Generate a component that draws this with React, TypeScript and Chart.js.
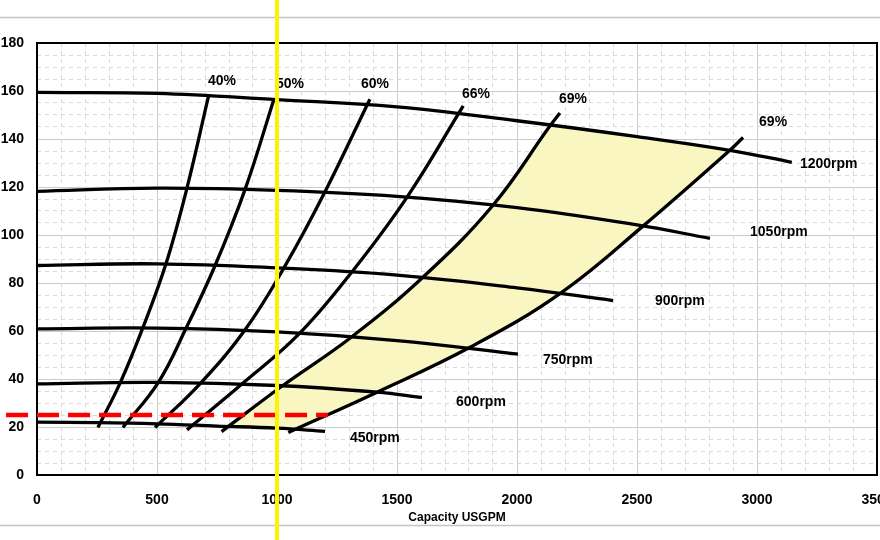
import { useEffect, useRef } from 'react';
import { Chart, registerables } from 'chart.js';

Chart.register(...registerables);

// Speed curves: head (ft) against capacity (USGPM)
const rpm1200X = [0, 500, 1000, 1500, 2000, 2500, 2887, 3145];
const rpm1200Y = [159.4, 159, 156.4, 153.4, 147.6, 141, 135.3, 130.3];
const rpm1050X = [0, 500, 1000, 1500, 2000, 2500, 2804];
const rpm1050Y = [118.2, 119.5, 118.6, 116.1, 111.4, 104.2, 98.6];
const rpm900X = [0, 500, 1000, 1500, 2000, 2400];
const rpm900Y = [87.3, 88, 86.3, 83.3, 78, 72.7];
const rpm750X = [0, 500, 1000, 1500, 2004];
const rpm750Y = [60.9, 61.2, 59.6, 56, 50.4];
const rpm600X = [0, 500, 1000, 1417, 1604];
const rpm600Y = [38, 38.6, 37.3, 34.5, 32.3];
const rpm450X = [0, 250, 500, 750, 1000, 1200];
const rpm450Y = [22, 21.8, 21.3, 20.4, 19.5, 18.2];

// Efficiency curves
const eff40X = [254, 347, 440, 537, 625, 716];
const eff40Y = [19.8, 38.5, 61.1, 87.9, 119.6, 158.5];
const eff50X = [358, 505, 620, 743, 867, 988];
const eff50Y = [19.8, 38.5, 60.9, 87.5, 119, 156.8];
const eff60X = [492, 679, 867, 1033, 1200, 1387];
const eff60Y = [19.8, 38, 60.5, 87, 118, 156.6];
const eff66X = [625, 855, 1093, 1312, 1542, 1776];
const eff66Y = [18.8, 38, 58.9, 84.6, 115.8, 153.8];
const eff69aX = [769, 1023, 1308, 1608, 1900, 2137, 2179];
const eff69aY = [18.1, 37.2, 57.3, 82.4, 112.4, 145.4, 150.8];
const eff69bX = [1047, 1417, 1804, 2179, 2525, 2887, 2942];
const eff69bY = [17.7, 34.5, 53.2, 75.6, 103.7, 135.3, 140.6];

// Best efficiency zone (between the two 69% curves)
const zoneX = [780, 1023, 1308, 1608, 1900, 2137, 2500, 2887, 2525, 2179, 1804, 1417, 1075, 1000, 780];
const zoneY = [20.1, 37.2, 57.3, 82.4, 112.4, 145.4, 141, 135.3, 103.7, 75.6, 53.2, 34.5, 19, 19.5, 20.1];

// Duty point markers
const markerFlow = 1000;
const dutyHeadX = [-129, 1212];
const dutyHeadY = [25, 25];

const effLabels = ['40%', '50%', '60%', '66%', '69%', '69%'];
const effLabelX = [771, 1054, 1408, 1829, 2233, 3067];
const effLabelY = [164.2, 162.9, 162.9, 158.7, 156.6, 147];
const rpmLabels = ['1200rpm', '1050rpm', '900rpm', '750rpm', '600rpm', '450rpm'];
const rpmLabelX = [3179, 2971, 2575, 2108, 1746, 1304];
const rpmLabelY = [129.5, 101.1, 72.3, 48, 30.5, 15.5];

const FONT = '"Liberation Sans", Arial, sans-serif';

const pts = (xs: number[], ys: number[]) => xs.map((x, i) => ({ x, y: ys[i] }));

const curve = (xs: number[], ys: number[]) => ({
  data: pts(xs, ys),
  borderColor: '#000',
  borderWidth: 3.3,
  pointRadius: 0,
  tension: 0.4,
  fill: false,
  order: 1,
});

const overlay = {
  id: 'overlay',
  beforeDraw(chart: any) {
    const { ctx, width } = chart;
    ctx.save();
    ctx.fillStyle = '#fff';
    ctx.fillRect(0, 0, width, chart.height);
    ctx.strokeStyle = '#c4c4c4';
    ctx.lineWidth = 1.5;
    ctx.beginPath();
    ctx.moveTo(0, 17.5);
    ctx.lineTo(width, 17.5);
    ctx.moveTo(0, 525.5);
    ctx.lineTo(width, 525.5);
    ctx.stroke();
    ctx.restore();
  },
  beforeDatasetsDraw(chart: any) {
    const { ctx, chartArea: a } = chart;
    ctx.save();
    ctx.strokeStyle = '#000';
    ctx.lineWidth = 2;
    ctx.strokeRect(a.left, a.top, a.right - a.left, a.bottom - a.top);
    ctx.restore();
  },
  afterDatasetsDraw(chart: any) {
    const { ctx } = chart;
    const xs = chart.scales.x;
    const ys = chart.scales.y;
    ctx.save();
    ctx.fillStyle = '#000';
    ctx.font = `bold 14px ${FONT}`;
    ctx.textBaseline = 'middle';
    ctx.textAlign = 'center';
    effLabels.forEach((t, i) => {
      ctx.fillText(t, xs.getPixelForValue(effLabelX[i]), ys.getPixelForValue(effLabelY[i]));
    });
    ctx.textAlign = 'left';
    rpmLabels.forEach((t, i) => {
      ctx.fillText(t, xs.getPixelForValue(rpmLabelX[i]), ys.getPixelForValue(rpmLabelY[i]));
    });
    ctx.restore();
  },
  afterDraw(chart: any) {
    const { ctx } = chart;
    const px = chart.scales.x.getPixelForValue(markerFlow);
    ctx.save();
    ctx.strokeStyle = '#fbf400';
    ctx.lineWidth = 4;
    ctx.beginPath();
    ctx.moveTo(px, 0);
    ctx.lineTo(px, chart.height);
    ctx.stroke();
    ctx.restore();
  },
};

export default function App() {
  const canvasRef = useRef<HTMLCanvasElement>(null);

  useEffect(() => {
    const canvas = canvasRef.current;
    if (!canvas) return;

    const chart = new Chart(canvas, {
      type: 'line',
      data: {
        datasets: [
          {
            data: pts(dutyHeadX, dutyHeadY),
            borderColor: '#ff0000',
            borderWidth: 4.5,
            borderDash: [22, 9],
            pointRadius: 0,
            tension: 0,
            fill: false,
            clip: false,
            order: 0,
          },
          curve(rpm1200X, rpm1200Y),
          curve(rpm1050X, rpm1050Y),
          curve(rpm900X, rpm900Y),
          curve(rpm750X, rpm750Y),
          curve(rpm600X, rpm600Y),
          curve(rpm450X, rpm450Y),
          curve(eff40X, eff40Y),
          curve(eff50X, eff50Y),
          curve(eff60X, eff60Y),
          curve(eff66X, eff66Y),
          curve(eff69aX, eff69aY),
          curve(eff69bX, eff69bY),
          {
            data: pts(zoneX, zoneY),
            borderWidth: 0,
            borderColor: 'rgba(0,0,0,0)',
            backgroundColor: '#faf6c2',
            pointRadius: 0,
            tension: 0,
            fill: 'shape',
            order: 5,
          },
        ] as any,
      },
      options: {
        responsive: false,
        animation: false,
        layout: { padding: { top: 43, right: 3, bottom: 0, left: 0 } },
        plugins: {
          legend: { display: false },
          tooltip: { enabled: false },
        },
        scales: {
          x: {
            type: 'linear',
            min: 0,
            max: 3500,
            ticks: {
              stepSize: 100,
              autoSkip: false,
              maxRotation: 0,
              padding: 17,
              color: '#000',
              font: { family: FONT, size: 14, weight: 'bold' },
              callback: (v: any) => (Number(v) % 500 === 0 ? String(v) : ''),
            },
            grid: {
              drawTicks: false,
              lineWidth: 1,
              color: (c: any) => (c.tick && c.tick.value % 500 === 0 ? '#cccccc' : '#d9d9d9'),
            },
            border: {
              display: false,
              dash: (c: any) => (c.tick && c.tick.value % 500 === 0 ? [] : [4, 4]),
            },
            title: {
              display: true,
              text: 'Capacity USGPM',
              color: '#000',
              font: { family: FONT, size: 12, weight: 'bold' },
              padding: { top: 0, bottom: 15 },
            },
            afterFit: (s: any) => {
              s.height = 65;
              s.paddingLeft = 0;
              s.paddingRight = 0;
            },
          },
          y: {
            min: 0,
            max: 180,
            ticks: {
              stepSize: 5,
              autoSkip: false,
              padding: 13,
              color: '#000',
              font: { family: FONT, size: 14, weight: 'bold' },
              callback: (v: any) => (Number(v) % 20 === 0 ? String(v) : ''),
            },
            grid: {
              drawTicks: false,
              lineWidth: 1,
              color: (c: any) => (c.tick && c.tick.value % 20 === 0 ? '#cccccc' : '#d9d9d9'),
            },
            border: {
              display: false,
              dash: (c: any) => (c.tick && c.tick.value % 20 === 0 ? [] : [4, 4]),
            },
            afterFit: (s: any) => {
              s.width = 37;
              s.paddingTop = 0;
              s.paddingBottom = 0;
            },
          },
        },
      } as any,
      plugins: [overlay],
    });

    return () => {
      chart.destroy();
    };
  }, []);

  return (
    <div style={{ position: 'fixed', left: 0, top: 0, width: 880, height: 540, background: '#fff' }}>
      <canvas ref={canvasRef} width={880} height={540} style={{ display: 'block' }} />
    </div>
  );
}
